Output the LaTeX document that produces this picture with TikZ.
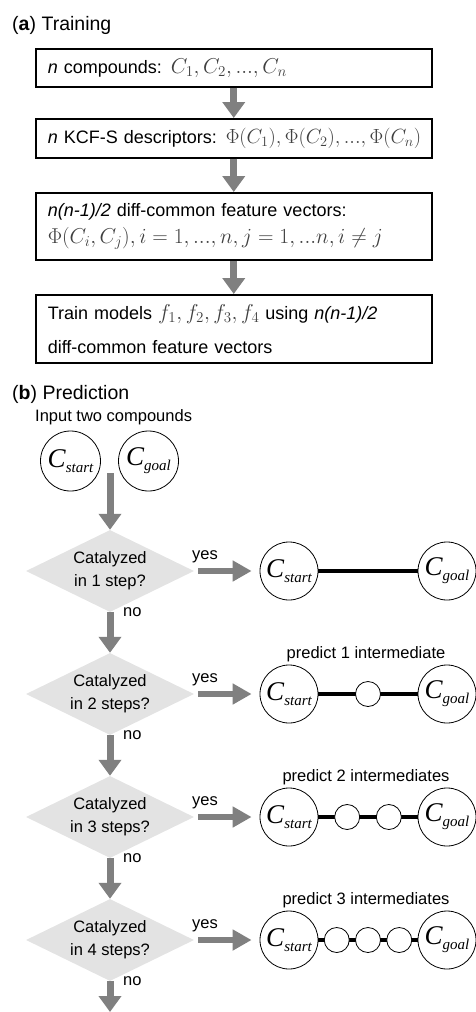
\RequirePackage{fix-cm}
\documentclass[tikz,border=0pt]{standalone}
\usepackage{fontspec}
\usepackage{amsmath}
\setmainfont{Liberation Sans}
\newfontfamily\cfont{Liberation Serif}
\usetikzlibrary{positioning,shapes.geometric,arrows.meta}

\newcommand{\gm}[2][21.5]{{\fontsize{#1}{27}\selectfont\textcolor{black!75}{$#2$}}}
\newcommand{\cstart}{{\cfont\itshape\fontsize{27}{27}\selectfont C}{\cfont\itshape\fontsize{15}{15}\selectfont\raisebox{-5pt}{start}}}
\newcommand{\cgoal}{{\cfont\itshape\fontsize{27}{27}\selectfont C}{\cfont\itshape\fontsize{15}{15}\selectfont\raisebox{-5pt}{goal}}}

\begin{document}
\begin{tikzpicture}[x=1pt,y=-1pt,
  box/.style={draw, line width=1.5pt, anchor=north west, minimum width=396pt,
    text width=372pt, inner xsep=12pt, align=left, font=\fontsize{18}{27}\selectfont},
  garrow/.style={draw=gray, line width=7pt, -{Triangle[width=22pt,length=16pt]}},
  yarrow/.style={draw=gray, line width=6pt, -{Triangle[width=20pt,length=19pt]},
    shorten <=4pt, shorten >=8pt},
  decide/.style={diamond, fill=gray!22, aspect=2, inner sep=0pt, minimum width=168pt,
    minimum height=82pt, align=center, font=\fontsize{16.5}{23}\selectfont},
  cpd/.style={circle, draw, line width=0.8pt, minimum size=58pt, inner sep=0pt},
  mid/.style={circle, draw, fill=white, line width=0.8pt, minimum size=25pt, inner sep=0pt},
  link/.style={line width=4pt},
  lbl/.style={font=\fontsize{16.5}{20}\selectfont, inner sep=1pt},
  ttl/.style={anchor=base west, inner sep=0pt, font=\fontsize{19.5}{22}\selectfont}]
\useasboundingbox (0,0) rectangle (476,1012);

% (a) training
\node[ttl] (ta) at (12,30) {(\textbf{a}) Training};
\node[box, minimum height=38pt] (b1) at (35,48)
  {\textit{n} compounds: \gm{C_1, C_2, ..., C_n}};
\node[box, minimum height=39pt] (b2) at (35,118)
  {\mbox{\textit{n} KCF-S descriptors: \gm[20.5]{\Phi(C_1), \Phi(C_2), ..., \Phi(C_n)}}};
\node[box, minimum height=67pt] (b3) at (35,192)
  {\textit{n(n-1)/2} diff-common feature vectors:\\
   \gm{\Phi(C_i, C_j), i=1, ..., n, j=1, ...n, i\neq j}};
\node[box, minimum height=68pt, font=\fontsize{18}{34}\selectfont] (b4) at (35,294)
  {Train models \gm{f_1, f_2, f_3, f_4} using \textit{n(n-1)/2}\\
   diff-common feature vectors};
\draw[garrow] (b1.south) -- (b2.north);
\draw[garrow] (b2.south) -- (b3.north);
\draw[garrow] (b3.south) -- (b4.north);

% (b) prediction
\node[ttl] (tb) at (12,399) {(\textbf{b}) Prediction};
\node[lbl, anchor=west] (inp) at (34,417) {Input two compounds};
\node[cpd, minimum size=60pt] (s0) at (70.5,461) {\cstart};
\node[cpd, minimum size=60pt] (g0) at (148.5,461) {\cgoal};
\coordinate (in) at (110,473);
\coordinate (out) at (110,1012);

\foreach \k in {1,...,4} {
  \pgfmathsetmacro{\yy}{571+123*(\k-1)}
  \pgfmathtruncatemacro{\m}{\k-1}
  \node[decide] (d\k) at (110,\yy) {Catalyzed\\in \k\ step\ifnum\k>1 s\fi?};
  \node[lbl] (yes\k) at (205,\yy-14) {yes};
  \node[lbl, right=12pt of d\k.south] (no\k) {no};
  \node[cpd] (s\k) at (289,\yy) {\cstart};
  \node[cpd] (g\k) at (447,\yy) {\cgoal};
  \draw[yarrow] (d\k.east) -- (s\k.west);
  \draw[link] (s\k) -- (g\k);
  \ifnum\m>0
    \node[lbl] (p\k) at (366,\yy-40) {predict \m\ intermediate\ifnum\m>1 s\fi};
    \foreach \i in {1,...,\m} {
      \pgfmathsetmacro{\xx}{330.5+\i*(100-25*\m)/(\m+1)+25*(\i-1)}
      \node[mid] (m\k-\i) at (\xx,\yy) {};
    }
  \fi
}

\draw[garrow] (in) -- (d1.north);
\draw[garrow] (d1.south) -- (d2.north);
\draw[garrow] (d2.south) -- (d3.north);
\draw[garrow] (d3.south) -- (d4.north);
\draw[garrow] (d4.south) -- (out);
\end{tikzpicture}
\end{document}
